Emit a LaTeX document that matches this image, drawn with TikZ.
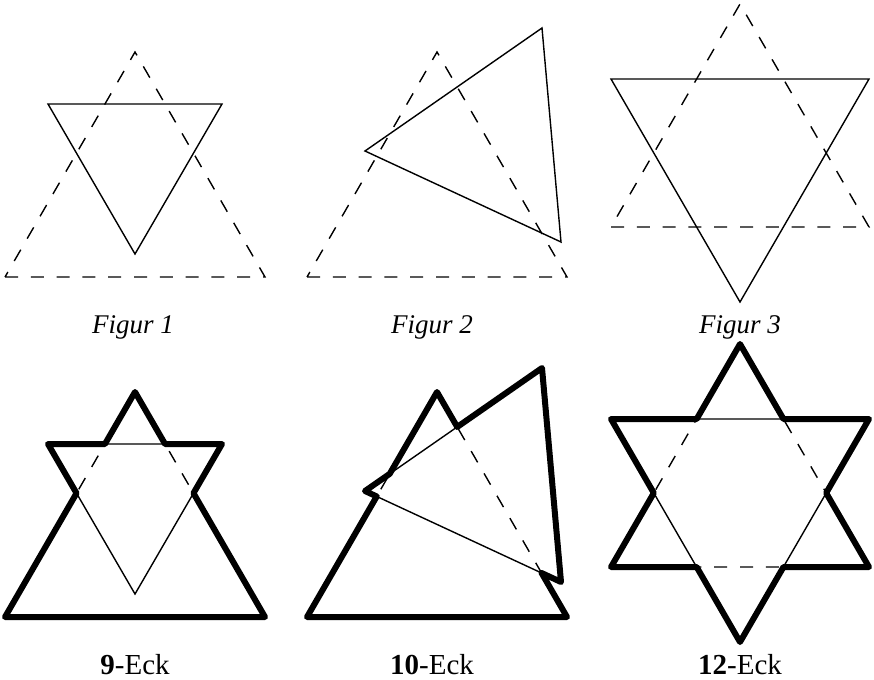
\documentclass[tikz,border=0pt]{standalone}
\usepackage{fontspec}
\setmainfont{Liberation Serif}
\usepackage{xcolor}
\definecolor{linecolor}{RGB}{0,0,0}
\definecolor{textcolor}{RGB}{0,0,0}
\usetikzlibrary{calc}

\tikzset{
  thinline/.style={line width=1.4pt, color=linecolor, line join=miter},
  dashline/.style={line width=1.4pt, color=linecolor, dash pattern=on 13pt off 12.8pt},
  outline/.style={line width=6pt, color=linecolor, line join=round, line cap=round},
  figlabel/.style={anchor=base, color=textcolor, font=\fontsize{27}{30}\selectfont\itshape},
  ecklabel/.style={anchor=base, color=textcolor, text depth=0pt, font=\fontsize{29}{32}\selectfont},
}

\begin{document}
\begin{tikzpicture}[x=1pt, y=-1pt]
  \useasboundingbox (0,0) rectangle (874,679);

  % Figur 1
  \coordinate (a1) at (135,52);  \coordinate (b1) at (5,277);   \coordinate (c1) at (265,277);
  \coordinate (p1) at (48,104);  \coordinate (q1) at (222,104); \coordinate (r1) at (135,254);
  \draw[dashline] (b1) -- (c1) -- (a1) -- cycle;
  \draw[thinline] (p1) -- (q1) -- (r1) -- cycle;
  \node[figlabel] (fig1) at (133,333) {Figur 1};

  % Figur 2
  \coordinate (a2) at (437,52);  \coordinate (b2) at (307,277); \coordinate (c2) at (567,277);
  \coordinate (p2) at (365,151); \coordinate (q2) at (542,28);  \coordinate (r2) at (561,242);
  \draw[dashline] (b2) -- (c2) -- (a2) -- cycle;
  \draw[thinline] (p2) -- (q2) -- (r2) -- cycle;
  \node[figlabel] (fig2) at (432,333) {Figur 2};

  % Figur 3
  \coordinate (a3) at (740,4);   \coordinate (b3) at (611,227); \coordinate (c3) at (869,227);
  \coordinate (p3) at (611,79);  \coordinate (q3) at (869,79);  \coordinate (r3) at (740,302);
  \draw[dashline] (b3) -- (c3) -- (a3) -- cycle;
  \draw[thinline] (p3) -- (q3) -- (r3) -- cycle;
  \node[figlabel] (fig3) at (740,333) {Figur 3};

  \begin{scope}[shift={(0,340)}]
    % 9-Eck
    \coordinate (a4) at (135,52);  \coordinate (b4) at (5,277);   \coordinate (c4) at (265,277);
    \coordinate (p4) at (48,104);  \coordinate (q4) at (222,104); \coordinate (r4) at (135,254);
    \draw[dashline] (b4) -- (c4) -- (a4) -- cycle;
    \draw[thinline] (p4) -- (q4) -- (r4) -- cycle;
    \draw[outline] (b4) -- (intersection of a4--b4 and p4--r4) -- (p4)
      -- (intersection of a4--b4 and p4--q4) -- (a4)
      -- (intersection of a4--c4 and p4--q4) -- (q4)
      -- (intersection of a4--c4 and q4--r4) -- (c4) -- cycle;

    % 10-Eck
    \coordinate (a5) at (437,52);  \coordinate (b5) at (307,277); \coordinate (c5) at (567,277);
    \coordinate (p5) at (365,151); \coordinate (q5) at (542,28);  \coordinate (r5) at (561,242);
    \draw[dashline] (b5) -- (c5) -- (a5) -- cycle;
    \draw[thinline] (p5) -- (q5) -- (r5) -- cycle;
    \draw[outline] (b5) -- (intersection of a5--b5 and p5--r5) -- (p5)
      -- (intersection of a5--b5 and p5--q5) -- (a5)
      -- (intersection of a5--c5 and p5--q5) -- (q5) -- (r5)
      -- (intersection of a5--c5 and p5--r5) -- (c5) -- cycle;

    % 12-Eck
    \coordinate (a6) at (740,4);   \coordinate (b6) at (611,227); \coordinate (c6) at (869,227);
    \coordinate (p6) at (611,79);  \coordinate (q6) at (869,79);  \coordinate (r6) at (740,302);
    \draw[dashline] (b6) -- (c6) -- (a6) -- cycle;
    \draw[thinline] (p6) -- (q6) -- (r6) -- cycle;
    \draw[outline] (a6) -- (intersection of a6--c6 and p6--q6) -- (q6)
      -- (intersection of a6--c6 and q6--r6) -- (c6)
      -- (intersection of b6--c6 and q6--r6) -- (r6)
      -- (intersection of b6--c6 and p6--r6) -- (b6)
      -- (intersection of a6--b6 and p6--r6) -- (p6)
      -- (intersection of a6--b6 and p6--q6) -- cycle;
  \end{scope}

  \node[ecklabel] (eck9)  at (135,674) {\textbf{9}-Eck};
  \node[ecklabel] (eck10) at (432,674) {\textbf{10}-Eck};
  \node[ecklabel] (eck12) at (740,674) {\textbf{12}-Eck};
\end{tikzpicture}
\end{document}
